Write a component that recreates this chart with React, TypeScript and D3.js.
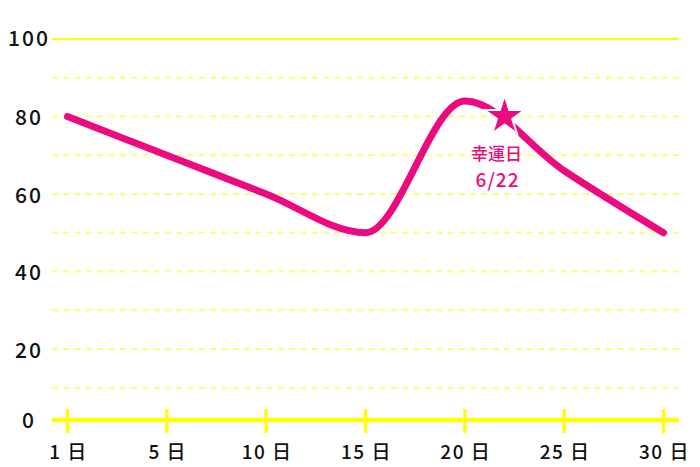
import React from "react";
import * as d3 from "d3";

const days = [1, 5, 10, 15, 20, 25, 30];
const values = [80, 70, 60, 50, 84, 66, 50];
const yTickValues = [0, 20, 40, 60, 80, 100];
const gridValues = [10, 20, 30, 40, 50, 60, 70, 80, 90];
const topGridValue = 100;
const luckyDay = 22;
const luckyValue = 80;
const luckyLabel = "幸運日";
const luckyDate = "6/22";

const W = 700;
const H = 467;
const PINK = "#ec0a80";
const FONT = "'Noto Sans CJK JP', 'Noto Sans', sans-serif";

export default function App() {
  const xScale = d3.scalePoint<number>().domain(days).range([52, 679]).padding(0.156);
  const dayScale = d3.scaleLinear().domain(days).range(days.map((d) => xScale(d) as number));
  const yScale = d3.scaleLinear().domain([0, 100]).range([426.4, 39]);
  const axisY = 420;

  const line = d3
    .line<number>()
    .x((_, i) => xScale(days[i]) as number)
    .y((v) => yScale(v))
    .curve(d3.curveMonotoneX);

  const starPath = d3.symbol().type(d3.symbolStar).size(495)() as string;
  const sx = dayScale(luckyDay);
  const sy = yScale(luckyValue);

  return (
    <svg width={W} height={H} style={{ position: "absolute", left: 0, top: 0, background: "#fff" }}>
      {gridValues.map((g) => (
        <line
          key={g}
          x1={52}
          x2={681}
          y1={yScale(g)}
          y2={yScale(g)}
          stroke="#ffff6e"
          strokeWidth={2}
          strokeDasharray="6,5.3"
        />
      ))}
      <line x1={52} x2={679} y1={yScale(topGridValue)} y2={yScale(topGridValue)} stroke="#ffff00" strokeWidth={2} />
      <line x1={52} x2={679} y1={axisY} y2={axisY} stroke="#ffff00" strokeWidth={4.5} />
      {days.map((d) => (
        <line key={d} x1={xScale(d)} x2={xScale(d)} y1={409} y2={433} stroke="#ffff00" strokeWidth={3.3} />
      ))}
      {yTickValues.map((v) => (
        <text
          key={v}
          x={29}
          y={v === 0 ? axisY - 1 : v === 100 ? yScale(v) - 2 : yScale(v)}
          textAnchor="middle"
          dominantBaseline="central"
          fontFamily={FONT}
          fontSize={21}
          fontWeight={500}
          letterSpacing={2}
          fill="#111"
        >
          {v}
        </text>
      ))}
      {days.map((d) => (
        <text
          key={d}
          x={xScale(d) + 1}
          y={450}
          textAnchor="middle"
          dominantBaseline="central"
          fontFamily={FONT}
          fontSize={19}
          fontWeight={500}
          letterSpacing={1.5}
          fill="#111"
        >
          {`${d} 日`}
        </text>
      ))}
      <path d={line(values) as string} fill="none" stroke={PINK} strokeWidth={7} strokeLinecap="round" strokeLinejoin="round" />
      <path d={starPath} transform={`translate(${sx},${sy})`} fill={PINK} stroke="#fff" strokeWidth={2} />
      <text x={sx - 8} y={160} textAnchor="middle" fontFamily={FONT} fontSize={17} fontWeight={500} fill={PINK}>
        {luckyLabel}
      </text>
      <text x={sx - 7} y={187} textAnchor="middle" fontFamily={FONT} fontSize={19} fontWeight={500} letterSpacing={1} fill={PINK}>
        {luckyDate}
      </text>
    </svg>
  );
}
